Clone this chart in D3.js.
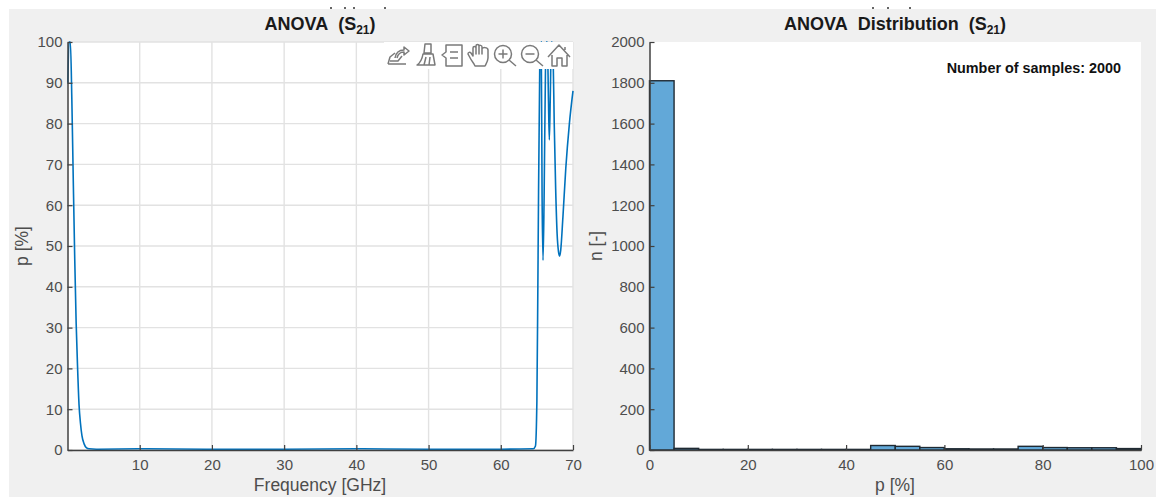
<!DOCTYPE html>
<html>
<head>
<meta charset="utf-8">
<script src="https://cdn.jsdelivr.net/npm/d3@7"></script>
<style>
html, body { margin: 0; padding: 0; background: #fff; }
svg { display: block; }
text { font-family: "Liberation Sans", Arial, sans-serif; }
</style>
</head>
<body>
<div class="chart"></div>
<script>
// left plot: p value against frequency
const freqGHz = [0.05, 0.2, 0.4, 0.6, 0.8, 1.0, 1.2, 1.4, 1.6, 1.8, 2.0, 2.3, 2.6, 3.0, 4, 10, 20, 30, 40, 50, 60, 64.5,
	64.8, 65.0, 65.15, 65.4, 65.6, 65.72, 65.85, 66.0, 66.2, 66.3, 66.45, 66.6, 66.72, 66.85, 67.0, 67.1, 67.25, 67.4, 67.6, 67.8, 68.0, 68.15, 68.3, 68.6, 69.0, 69.5, 70];
const pValues = [90, 100, 100, 86, 66, 47, 31, 20, 11, 6.5, 3.5, 1.5, 0.6, 0.3, 0.2, 0.3, 0.2, 0.2, 0.3, 0.2, 0.2, 0.3,
	1, 12, 44, 95, 100, 62, 46.5, 62, 95, 100, 100, 86, 76, 86, 100, 100, 96, 80, 64, 53, 48.5, 47.5, 49, 57, 69, 80, 88];
const xTicksLeft = [10, 20, 30, 40, 50, 60, 70];
const yTicksLeft = [0, 10, 20, 30, 40, 50, 60, 70, 80, 90, 100];

// right plot: histogram of p, 5 % bins
const binEdges = [0, 5, 10, 15, 20, 25, 30, 35, 40, 45, 50, 55, 60, 65, 70, 75, 80, 85, 90, 95, 100];
const binCounts = [1810, 8, 3, 3, 3, 3, 3, 3, 3, 22, 18, 12, 6, 5, 5, 18, 12, 11, 11, 7];
const xTicksRight = [0, 20, 40, 60, 80, 100];
const yTicksRight = [0, 200, 400, 600, 800, 1000, 1200, 1400, 1600, 1800, 2000];

const width = 1156, height = 497;
const axisColor = "#404040", gridColor = "#e2e2e2", titleColor = "#1a1a1a";

const svg = d3.select(".chart").append("svg")
	.attr("width", width)
	.attr("height", height);

svg.append("rect")
	.attr("x", 9).attr("y", 9)
	.attr("width", width - 9).attr("height", height - 9)
	.attr("fill", "#f0f0f0");

// cropped remains of a title above the figure
svg.append("path")
	.attr("d", "M331 7V9M345 7V9M354 7V9M385 7V9M873 7V9M888 7V9M910 7V9")
	.attr("stroke", "#333")
	.attr("stroke-width", 1.5);

const plotTop = 42, plotBottom = 450;

function plotArea(x0, x1) {
	svg.append("rect")
		.attr("x", x0).attr("y", plotTop)
		.attr("width", x1 - x0).attr("height", plotBottom - plotTop)
		.attr("fill", "#fff");
}

function drawAxes(g, x, y, xTicks, yTicks) {
	const xAxis = d3.axisBottom(x).tickValues(xTicks).tickFormat(d3.format("d")).tickSize(-5).tickPadding(9).tickSizeOuter(0);
	const yAxis = d3.axisLeft(y).tickValues(yTicks).tickFormat(d3.format("d")).tickSize(-5).tickPadding(5).tickSizeOuter(0);
	const gx = g.append("g").attr("transform", "translate(0," + plotBottom + ")").call(xAxis);
	const gy = g.append("g").attr("transform", "translate(" + x.range()[0] + ",0)").call(yAxis);
	[gx, gy].forEach(function(a) {
		a.selectAll(".domain").attr("stroke", axisColor).attr("stroke-width", 1.5);
		a.selectAll(".tick line").attr("stroke", axisColor).attr("stroke-width", 1.2);
		a.selectAll("text").attr("fill", "#4d4d4d").style("font-size", "15px");
	});
}

function labels(cx, titleText, xText, yText, yX) {
	const t = svg.append("text")
		.attr("x", cx).attr("y", 30)
		.attr("text-anchor", "middle")
		.attr("fill", titleColor)
		.style("font-size", "18px")
		.style("font-weight", "bold");
	t.append("tspan").text(titleText + "\u00a0\u00a0(S");
	t.append("tspan").attr("dy", 4).style("font-size", "12px").text("21");
	t.append("tspan").attr("dy", -4).text(")");

	svg.append("text")
		.attr("x", cx).attr("y", 491)
		.attr("text-anchor", "middle")
		.attr("fill", "#4d4d4d")
		.style("font-size", "17.5px")
		.text(xText);

	svg.append("text")
		.attr("transform", "translate(" + yX + ",246) rotate(-90)")
		.attr("text-anchor", "middle")
		.attr("fill", "#4d4d4d")
		.style("font-size", "17.5px")
		.text(yText);
}

// ---- left plot
const xLeft = d3.scaleLinear().domain([0, 70]).range([67.5, 573]);
const yLeft = d3.scaleLinear().domain([0, 100]).range([plotBottom, plotTop]);
plotArea(67.5, 573);

const left = svg.append("g");
const grid = left.append("g");
grid.selectAll("line.v").data(xTicksLeft).enter().append("line")
	.attr("class", "v")
	.attr("x1", d => xLeft(d)).attr("x2", d => xLeft(d))
	.attr("y1", plotTop).attr("y2", plotBottom)
	.attr("stroke", gridColor).attr("stroke-width", 1.4);
grid.selectAll("line.h").data(yTicksLeft).enter().append("line")
	.attr("class", "h")
	.attr("x1", xLeft(0)).attr("x2", xLeft(70))
	.attr("y1", d => yLeft(d)).attr("y2", d => yLeft(d))
	.attr("stroke", gridColor).attr("stroke-width", 1.4);

const line = d3.line()
	.x((d, i) => xLeft(freqGHz[i]))
	.y(d => yLeft(d))
	.curve(d3.curveMonotoneX);

left.append("path")
	.datum(pValues)
	.attr("d", line)
	.attr("fill", "none")
	.attr("stroke", "#0072bd")
	.attr("stroke-width", 1.6);

drawAxes(left, xLeft, yLeft, xTicksLeft, yTicksLeft);
labels(320, "ANOVA", "Frequency [GHz]", "p [%]", 28);

// toolbar sits on top of the curve
svg.append("rect")
	.attr("x", 384).attr("y", plotTop)
	.attr("width", 189).attr("height", 27)
	.attr("fill", "#fff");

const tools = svg.append("g")
	.attr("fill", "none")
	.attr("stroke", "#7a7a7a")
	.attr("stroke-width", 1.5)
	.attr("stroke-linejoin", "round");

// export
tools.append("path").attr("d", "M388 64H406M388 64L390 57L395 53M390 61H398L402 56M395 58C396 52 400 50 404 50V47L409 51L404 55V52C400 52 398 54 397 58");
// brush
tools.append("path").attr("d", "M425 44H431V53H424ZM423 54H433L435 65H417C420 63 422 60 423 54ZM426 57L424 65M430 57L429 65");
// legend
tools.append("path").attr("d", "M446 45H462V66H446V58L442 55L446 52ZM450 52H458M450 58H458");
// pan hand
tools.append("path").attr("d", "M474 64C471 60 469 56 468 54C468 52 470 52 471 53L473 56V48C473 46 476 46 476 48V54V46C476 44 479 44 479 46V54V46C479 45 482 45 482 47V54V49C482 47 488 47 488 50V58C488 61 486 64 485 66H475Z");
// zoom in, zoom out
[503, 530].forEach(function(cx, i) {
	tools.append("circle").attr("cx", cx).attr("cy", 54).attr("r", 8.5);
	tools.append("path").attr("d", "M" + (cx + 6) + " 60L" + (cx + 13) + " 66M" + (cx - 4.5) + " 54H" + (cx + 4.5)
		+ (i == 0 ? "M" + cx + " 49.5V58.5" : ""));
});
// home
tools.append("path").attr("d", "M548 57L559 45L570 57M552 55V66H557V58H562V66H567V55M565 47V50");

// ---- right plot
const xRight = d3.scaleLinear().domain([0, 100]).range([649.5, 1141]);
const yRight = d3.scaleLinear().domain([0, 2000]).range([plotBottom, plotTop]);
plotArea(649.5, 1141);

const right = svg.append("g");
right.selectAll("rect.bin")
	.data(binCounts)
	.enter()
	.append("rect")
	.attr("class", "bin")
	.attr("x", (d, i) => xRight(binEdges[i]))
	.attr("width", (d, i) => xRight(binEdges[i + 1]) - xRight(binEdges[i]))
	.attr("y", d => yRight(d))
	.attr("height", d => yRight(0) - yRight(d))
	.attr("fill", "#62a8d8")
	.attr("stroke", "#1f2a33")
	.attr("stroke-width", 1.4);

drawAxes(right, xRight, yRight, xTicksRight, yTicksRight);
labels(895, "ANOVA\u00a0\u00a0Distribution", "p [%]", "n [-]", 602);

svg.append("text")
	.attr("x", 1121).attr("y", 72.5)
	.attr("text-anchor", "end")
	.attr("fill", "#111")
	.style("font-size", "14.4px")
	.style("font-weight", "bold")
	.text("Number of samples: 2000");
</script>
</body>
</html>
